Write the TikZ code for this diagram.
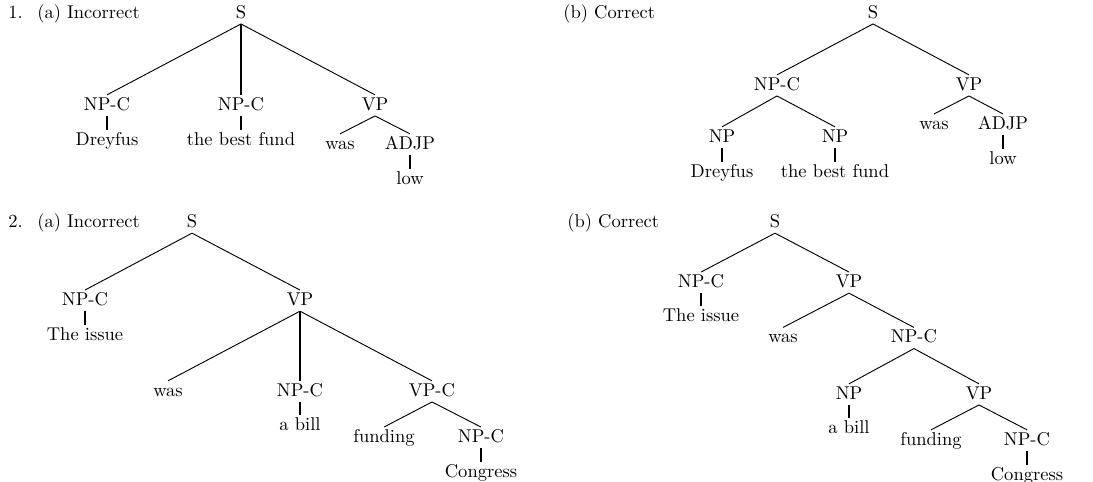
\documentclass[tikz,border=0pt]{standalone}
\usepackage{amsmath,amssymb}
\usepackage{tikz}

\begin{document}
\begin{tikzpicture}[
    x=0.54pt, y=-0.54pt,
    cat/.style={inner sep=1pt, text height=7pt, text depth=2pt, font=\normalsize},
    caption/.style={anchor=base west, inner sep=0pt},
    branch/.style={line width=0.5pt},
    unary/.style={line width=1.5pt}
]
\useasboundingbox (0,0) rectangle (1093,481);

% Panel captions.
\node[caption] (num1) at (8,18) {1.};
\node[caption] (cap1a) at (37,18) {(a) Incorrect};
\node[caption] (cap1b) at (563,18) {(b) Correct};
\node[caption] (num2) at (8,227) {2.};
\node[caption] (cap2a) at (37,227) {(a) Incorrect};
\node[caption] (cap2b) at (567,227) {(b) Correct};

% Tree 1(a): flat analysis.
\node[cat] (s1a) at (241,13.4) {S};
\node[cat] (npa1a) at (107,105.4) {NP-C};
\node[cat] (npb1a) at (241,105.4) {NP-C};
\node[cat] (vp1a) at (375,105.4) {VP};
\node[cat] (dre1a) at (107,140.4) {Dreyfus};
\node[cat] (fund1a) at (241,140.4) {the best fund};
\node[cat] (was1a) at (340,144.4) {was};
\node[cat] (adjp1a) at (410,144.4) {ADJP};
\node[cat] (low1a) at (410,179.4) {low};

\draw[branch] (s1a.south) -- (npa1a.north);
\draw[unary] (s1a.south) -- (npb1a.north);
\draw[branch] (s1a.south) -- (vp1a.north);
\draw[unary] (npa1a.south) -- (dre1a.north);
\draw[unary] (npb1a.south) -- (fund1a.north);
\draw[branch] (vp1a.south) -- (was1a.north);
\draw[branch] (vp1a.south) -- (adjp1a.north);
\draw[unary] (adjp1a.south) -- (low1a.north);

% Tree 1(b): apposition grouped under NP-C.
\node[cat] (s1b) at (873,13.4) {S};
\node[cat] (npc1b) at (777,85.4) {NP-C};
\node[cat] (vp1b) at (969,85.4) {VP};
\node[cat] (npa1b) at (722,137.4) {NP};
\node[cat] (npb1b) at (835,137.4) {NP};
\node[cat] (dre1b) at (722,172.4) {Dreyfus};
\node[cat] (fund1b) at (835,172.4) {the best fund};
\node[cat] (was1b) at (934,124.5) {was};
\node[cat] (adjp1b) at (1003,124.5) {ADJP};
\node[cat] (low1b) at (1003,159.5) {low};

\draw[branch] (s1b.south) -- (npc1b.north);
\draw[branch] (s1b.south) -- (vp1b.north);
\draw[branch] (npc1b.south) -- (npa1b.north);
\draw[branch] (npc1b.south) -- (npb1b.north);
\draw[unary] (npa1b.south) -- (dre1b.north);
\draw[unary] (npb1b.south) -- (fund1b.north);
\draw[branch] (vp1b.south) -- (was1b.north);
\draw[branch] (vp1b.south) -- (adjp1b.north);
\draw[unary] (adjp1b.south) -- (low1b.north);

% Tree 2(a): flat VP.
\node[cat] (s2a) at (192,222.6) {S};
\node[cat] (npc2a) at (85,300.6) {NP-C};
\node[cat] (vp2a) at (300,300.6) {VP};
\node[cat] (iss2a) at (85,335.4) {The issue};
\node[cat] (was2a) at (168,391.4) {was};
\node[cat] (npb2a) at (300,391.4) {NP-C};
\node[cat] (vpc2a) at (432,391.4) {VP-C};
\node[cat] (bill2a) at (300,426) {a bill};
\node[cat] (fnd2a) at (384,437.6) {funding};
\node[cat] (npd2a) at (481,437.6) {NP-C};
\node[cat] (con2a) at (481,472.5) {Congress};

\draw[branch] (s2a.south) -- (npc2a.north);
\draw[branch] (s2a.south) -- (vp2a.north);
\draw[unary] (npc2a.south) -- (iss2a.north);
\draw[branch] (vp2a.south) -- (was2a.north);
\draw[unary] (vp2a.south) -- (npb2a.north);
\draw[branch] (vp2a.south) -- (vpc2a.north);
\draw[unary] (npb2a.south) -- (bill2a.north);
\draw[branch] (vpc2a.south) -- (fnd2a.north);
\draw[branch] (vpc2a.south) -- (npd2a.north);
\draw[unary] (npd2a.south) -- (con2a.north);

% Tree 2(b): small clause under NP-C.
\node[cat] (s2b) at (775,222.6) {S};
\node[cat] (npc2b) at (701,282.6) {NP-C};
\node[cat] (vp2b) at (849,282.6) {VP};
\node[cat] (iss2b) at (701,317) {The issue};
\node[cat] (was2b) at (783,338) {was};
\node[cat] (npb2b) at (914,338) {NP-C};
\node[cat] (np2b) at (849,394.4) {NP};
\node[cat] (vpc2b) at (979,394.4) {VP};
\node[cat] (bill2b) at (849,428.7) {a bill};
\node[cat] (fnd2b) at (931,440.4) {funding};
\node[cat] (npd2b) at (1027,440.4) {NP-C};
\node[cat] (con2b) at (1027,475.4) {Congress};

\draw[branch] (s2b.south) -- (npc2b.north);
\draw[branch] (s2b.south) -- (vp2b.north);
\draw[unary] (npc2b.south) -- (iss2b.north);
\draw[branch] (vp2b.south) -- (was2b.north);
\draw[branch] (vp2b.south) -- (npb2b.north);
\draw[branch] (npb2b.south) -- (np2b.north);
\draw[branch] (npb2b.south) -- (vpc2b.north);
\draw[unary] (np2b.south) -- (bill2b.north);
\draw[branch] (vpc2b.south) -- (fnd2b.north);
\draw[branch] (vpc2b.south) -- (npd2b.north);
\draw[unary] (npd2b.south) -- (con2b.north);

\end{tikzpicture}
\end{document}
